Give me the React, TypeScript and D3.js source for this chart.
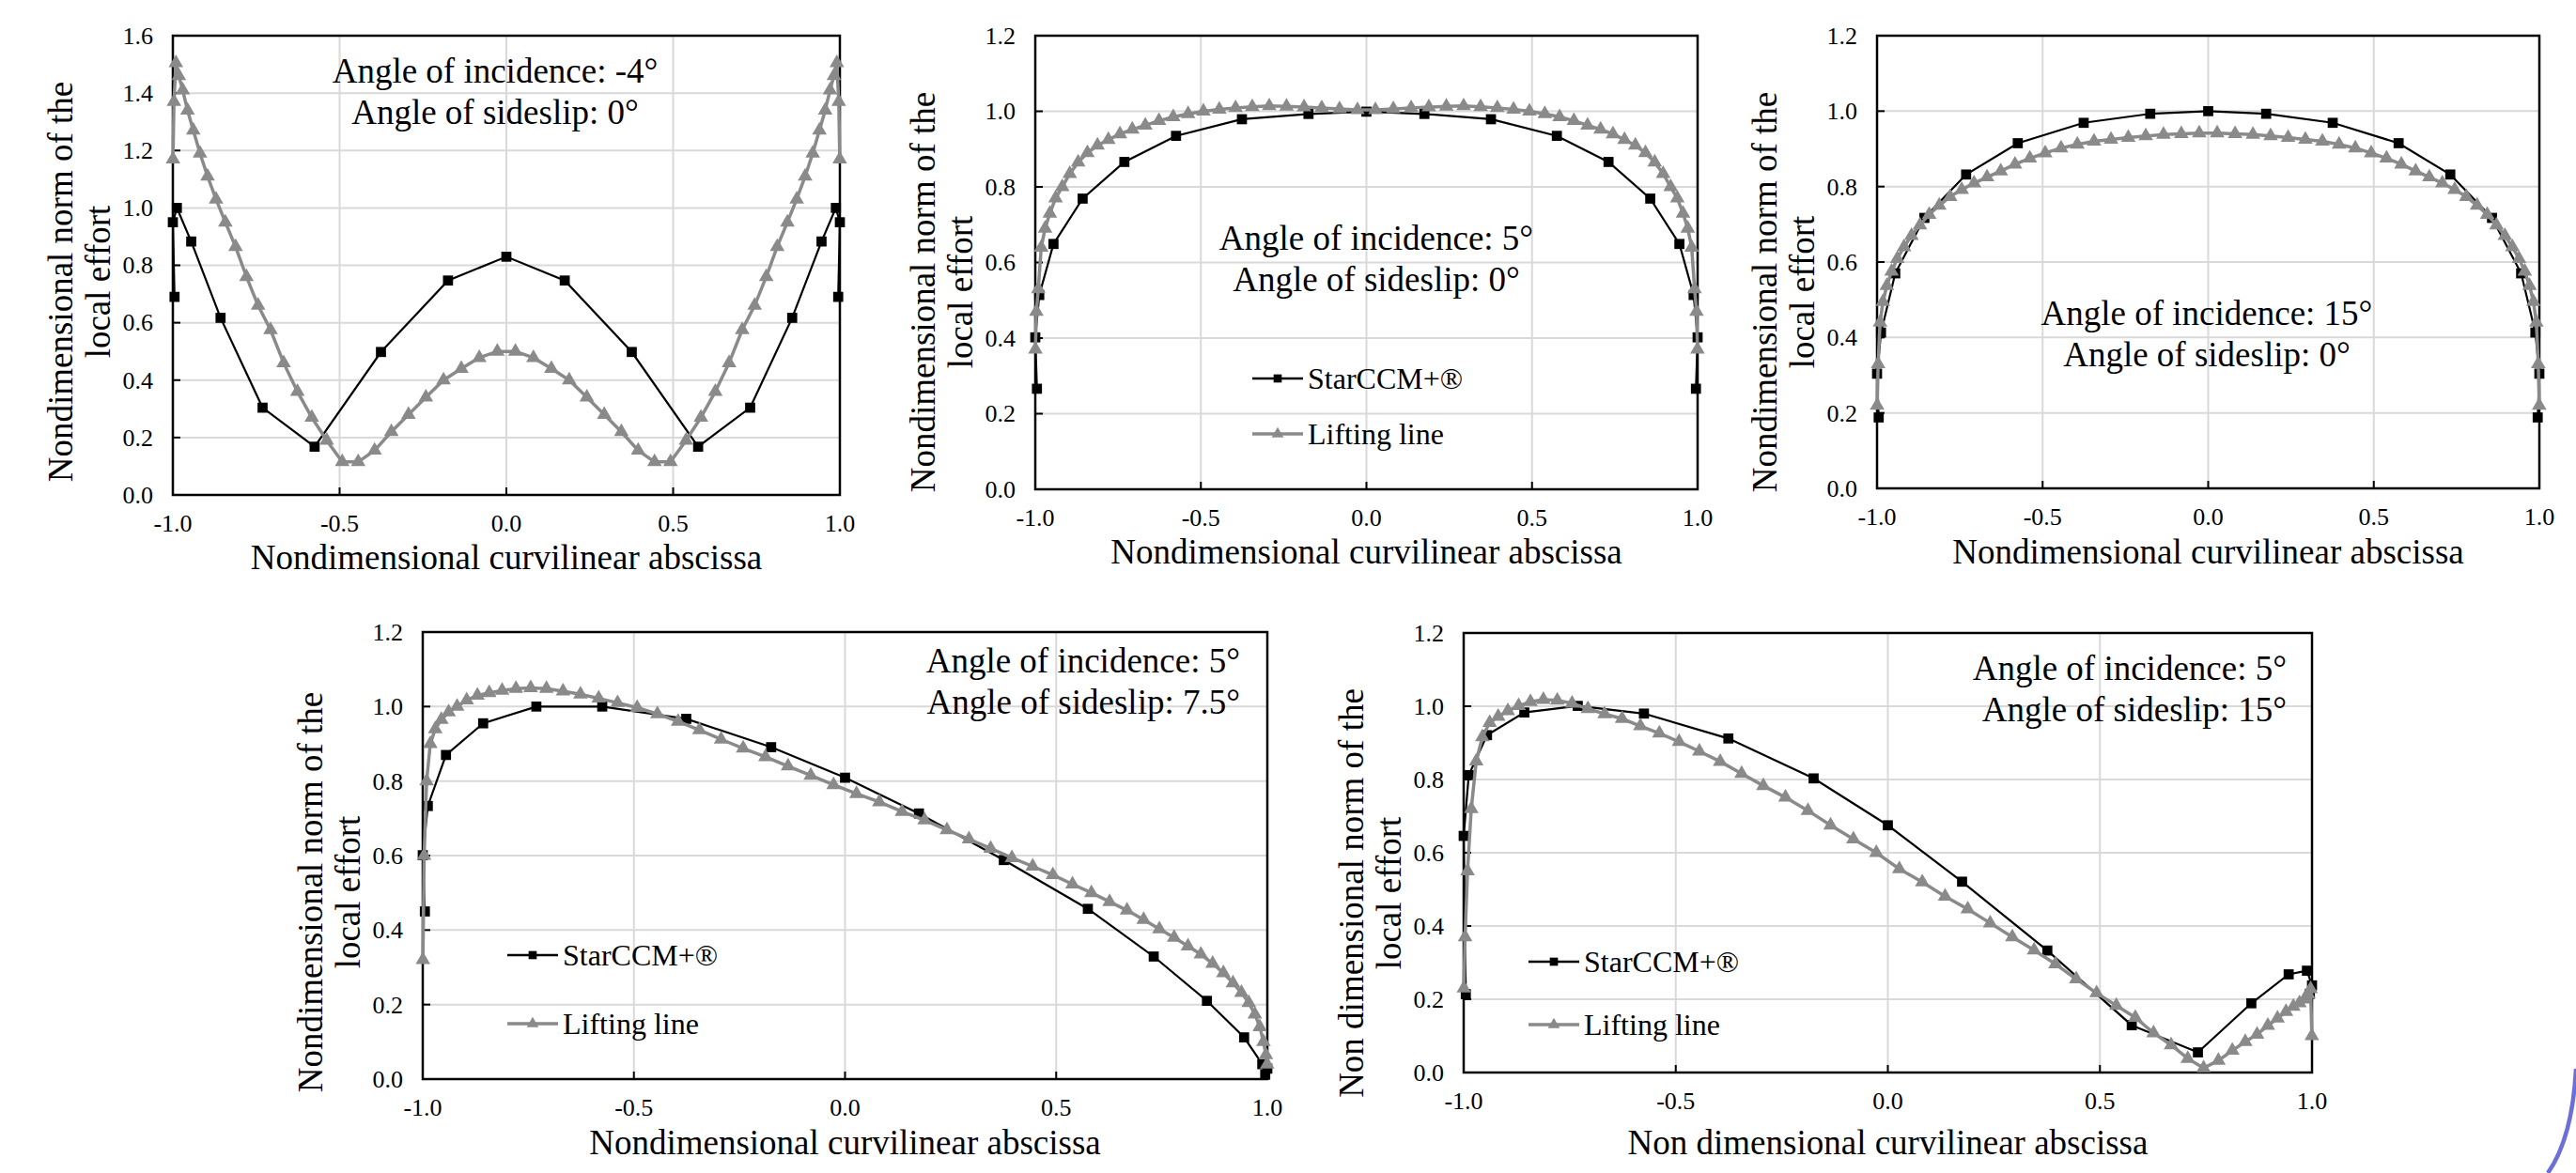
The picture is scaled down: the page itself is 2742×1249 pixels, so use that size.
import React from "react";
import * as d3 from "d3";

// abscissa of the StarCCM+ sections (the tips hold three close points)
const STAR_X = [
  -0.995, -1.0, -0.988, -0.945, -0.857, -0.731, -0.575, -0.376, -0.175, 0.0,
  0.175, 0.376, 0.575, 0.731, 0.857, 0.945, 0.988, 1.0, 0.995,
];

// abscissa of the lifting line stations
const LL_X = [
  -0.9996, -0.9967, -0.9909, -0.9821, -0.9704, -0.956, -0.9387, -0.9186, -0.8959, -0.8705,
  -0.8426, -0.8121, -0.7793, -0.7444, -0.7071, -0.6678, -0.6265, -0.5834, -0.5386, -0.4922,
  -0.4443, -0.3952, -0.3448, -0.2935, -0.2413, -0.1884, -0.135, -0.0812, -0.0271,
  0.0271, 0.0812, 0.135, 0.1884, 0.2413, 0.2935, 0.3448, 0.3952, 0.4443, 0.4922,
  0.5386, 0.5834, 0.6265, 0.6678, 0.7071, 0.7444, 0.7793, 0.8121, 0.8426, 0.8705,
  0.8959, 0.9186, 0.9387, 0.956, 0.9704, 0.9821, 0.9909, 0.9967, 0.9996,
];

// incidence -4, sideslip 0
const STAR_1 = [0.69, 0.95, 1.0, 0.883, 0.617, 0.304, 0.168, 0.498, 0.747, 0.83, 0.747, 0.498, 0.168, 0.304, 0.617, 0.883, 1.0, 0.95, 0.69];
const LL_1 = [
  1.17, 1.37, 1.505, 1.46, 1.41, 1.34, 1.27, 1.19, 1.11, 1.03, 0.95, 0.865, 0.76, 0.66, 0.575,
  0.46, 0.36, 0.27, 0.19, 0.115, 0.115, 0.155, 0.22, 0.28, 0.34, 0.4, 0.44, 0.478, 0.5,
  0.5, 0.478, 0.44, 0.4, 0.34, 0.28, 0.22, 0.155, 0.115, 0.115, 0.19, 0.27, 0.36, 0.46,
  0.575, 0.66, 0.76, 0.865, 0.95, 1.03, 1.11, 1.19, 1.27, 1.34, 1.41, 1.46, 1.505, 1.37, 1.17,
];

// incidence 5, sideslip 0
const STAR_2 = [0.266, 0.402, 0.514, 0.649, 0.769, 0.866, 0.935, 0.979, 0.993, 0.999, 0.993, 0.979, 0.935, 0.866, 0.769, 0.649, 0.514, 0.402, 0.266];
const LL_2 = [
  0.37, 0.47, 0.53, 0.64, 0.69, 0.73, 0.77, 0.8, 0.835, 0.865, 0.89, 0.91, 0.925, 0.94, 0.952,
  0.963, 0.975, 0.985, 0.993, 1.0, 1.005, 1.009, 1.012, 1.014, 1.013, 1.011, 1.009, 1.006, 1.004,
  1.004, 1.006, 1.009, 1.011, 1.013, 1.014, 1.012, 1.009, 1.005, 1.0, 0.993, 0.985, 0.975, 0.963,
  0.952, 0.94, 0.925, 0.91, 0.89, 0.865, 0.835, 0.8, 0.77, 0.73, 0.69, 0.64, 0.53, 0.47, 0.37,
];

// incidence 15, sideslip 0
const STAR_3 = [0.188, 0.304, 0.413, 0.57, 0.717, 0.832, 0.915, 0.969, 0.993, 1.0, 0.993, 0.969, 0.915, 0.832, 0.717, 0.57, 0.413, 0.304, 0.188];
const LL_3 = [
  0.22, 0.33, 0.44, 0.495, 0.537, 0.575, 0.609, 0.64, 0.67, 0.698, 0.726, 0.75, 0.773, 0.792, 0.809,
  0.825, 0.841, 0.859, 0.875, 0.889, 0.902, 0.912, 0.92, 0.925, 0.93, 0.934, 0.938, 0.94, 0.942,
  0.942, 0.94, 0.938, 0.934, 0.93, 0.925, 0.92, 0.912, 0.902, 0.889, 0.875, 0.859, 0.841, 0.825,
  0.809, 0.792, 0.773, 0.75, 0.726, 0.698, 0.67, 0.64, 0.609, 0.575, 0.537, 0.495, 0.44, 0.33, 0.22,
];

// incidence 5, sideslip 7.5
const STAR_4 = [0.45, 0.601, 0.733, 0.87, 0.955, 1.0, 1.0, 0.967, 0.891, 0.809, 0.713, 0.588, 0.457, 0.329, 0.21, 0.112, 0.04, 0.028, 0.012];
const LL_4 = [
  0.32, 0.6, 0.8, 0.9, 0.94, 0.965, 0.985, 1.0, 1.017, 1.03, 1.037, 1.043, 1.048, 1.05, 1.048,
  1.041, 1.033, 1.022, 1.01, 0.997, 0.98, 0.96, 0.937, 0.912, 0.888, 0.865, 0.84, 0.815, 0.79,
  0.766, 0.744, 0.718, 0.695, 0.669, 0.644, 0.619, 0.594, 0.571, 0.548, 0.523, 0.5, 0.476, 0.453,
  0.428, 0.403, 0.38, 0.357, 0.335, 0.31, 0.285, 0.258, 0.232, 0.205, 0.174, 0.14, 0.1, 0.065, 0.04,
];

// incidence 5, sideslip 15
const STAR_5 = [0.214, 0.646, 0.812, 0.921, 0.983, 1.001, 0.98, 0.912, 0.803, 0.675, 0.521, 0.333, 0.129, 0.055, 0.189, 0.268, 0.278, 0.238, 0.215];
const LL_5 = [
  0.23, 0.37, 0.55, 0.72, 0.85, 0.916, 0.955, 0.972, 0.987, 1.001, 1.012, 1.018, 1.016, 1.008, 0.993,
  0.979, 0.966, 0.946, 0.926, 0.903, 0.877, 0.849, 0.816, 0.783, 0.751, 0.715, 0.675, 0.637, 0.6,
  0.556, 0.52, 0.481, 0.446, 0.408, 0.37, 0.334, 0.296, 0.255, 0.217, 0.183, 0.15, 0.108, 0.075,
  0.038, 0.012, 0.033, 0.06, 0.084, 0.104, 0.128, 0.148, 0.166, 0.18, 0.19, 0.2, 0.214, 0.228, 0.1,
];

const X_TICKS = [-1, -0.5, 0, 0.5, 1];
const Y_TICKS_16 = [0, 0.2, 0.4, 0.6, 0.8, 1.0, 1.2, 1.4, 1.6];
const Y_TICKS_12 = [0, 0.2, 0.4, 0.6, 0.8, 1.0, 1.2];

const SERIES_NAMES = ["StarCCM+®", "Lifting line"];

const FONT = "'Liberation Serif', 'Times New Roman', serif";
const GREY = "#8a8a8a";

const panels = [
  {
    star: STAR_1, ll: LL_1, yMax: 1.6, yTicks: Y_TICKS_16,
    left: 184, right: 894, top: 38, bottom: 527,
    note: ["Angle of incidence: -4°", "Angle of sideslip: 0°"],
    noteX: 527, noteY: 88, noteAnchor: "middle",
    xTitle: "Nondimensional curvilinear abscissa", xTitleY: 606,
    yTitle: ["Nondimensional norm of the", "local effort"], yTitleC: 300,
    legend: null,
  },
  {
    star: STAR_2, ll: LL_2, yMax: 1.2, yTicks: Y_TICKS_12,
    left: 1102, right: 1807, top: 38, bottom: 521,
    note: ["Angle of incidence: 5°", "Angle of sideslip: 0°"],
    noteX: 1465, noteY: 266, noteAnchor: "middle",
    xTitle: "Nondimensional curvilinear abscissa", xTitleY: 600,
    yTitle: ["Nondimensional norm of the", "local effort"], yTitleC: 311,
    legend: { x: 1333, y: 403, gap: 59 },
  },
  {
    star: STAR_3, ll: LL_3, yMax: 1.2, yTicks: Y_TICKS_12,
    left: 1998, right: 2703, top: 38, bottom: 520,
    note: ["Angle of incidence: 15°", "Angle of sideslip: 0°"],
    noteX: 2349, noteY: 346, noteAnchor: "middle",
    xTitle: "Nondimensional curvilinear abscissa", xTitleY: 600,
    yTitle: ["Nondimensional norm of the", "local effort"], yTitleC: 311,
    legend: null,
  },
  {
    star: STAR_4, ll: LL_4, yMax: 1.2, yTicks: Y_TICKS_12,
    left: 450, right: 1349, top: 673, bottom: 1149,
    note: ["Angle of incidence: 5°", "Angle of sideslip: 7.5°"],
    noteX: 1320, noteY: 716, noteAnchor: "end",
    xTitle: "Nondimensional curvilinear abscissa", xTitleY: 1229,
    yTitle: ["Nondimensional norm of the", "local effort"], yTitleC: 950,
    legend: { x: 540, y: 1017, gap: 73 },
  },
  {
    star: STAR_5, ll: LL_5, yMax: 1.2, yTicks: Y_TICKS_12,
    left: 1558, right: 2461, top: 674, bottom: 1142,
    note: ["Angle of incidence: 5°", "Angle of sideslip: 15°"],
    noteX: 2434, noteY: 724, noteAnchor: "end",
    xTitle: "Non dimensional curvilinear abscissa", xTitleY: 1229,
    yTitle: ["Non dimensional norm of the", "local effort"], yTitleC: 951,
    legend: { x: 1627, y: 1024, gap: 67 },
  },
];

const squarePath = d3.symbol().type(d3.symbolSquare).size(115)();
const trianglePath = d3.symbol().type(d3.symbolTriangle).size(105)();
const smallSquare = d3.symbol().type(d3.symbolSquare).size(75)();
const smallTriangle = d3.symbol().type(d3.symbolTriangle).size(70)();

function Panel({ p }: { p: any }) {
  const x = d3.scaleLinear().domain([-1, 1]).range([p.left, p.right]);
  const y = d3.scaleLinear().domain([0, p.yMax]).range([p.bottom, p.top]);
  const line = d3
    .line<[number, number]>()
    .x((d) => x(d[0]))
    .y((d) => y(d[1]));

  const star: [number, number][] = STAR_X.map((v, i) => [v, p.star[i]]);
  const ll: [number, number][] = LL_X.map((v, i) => [v, p.ll[i]]);

  return (
    <g>
      {/* grid */}
      {p.yTicks.map((t: number) => (
        <line key={"gy" + t} x1={p.left} x2={p.right} y1={y(t)} y2={y(t)} stroke="#d9d9d9" strokeWidth={2} />
      ))}
      {X_TICKS.map((t) => (
        <line key={"gx" + t} x1={x(t)} x2={x(t)} y1={p.top} y2={p.bottom} stroke="#d9d9d9" strokeWidth={2} />
      ))}

      {/* frame and inner ticks */}
      <rect x={p.left} y={p.top} width={p.right - p.left} height={p.bottom - p.top} fill="none" stroke="#000" strokeWidth={2.5} />
      {X_TICKS.map((t) => (
        <line key={"tx" + t} x1={x(t)} x2={x(t)} y1={p.bottom} y2={p.bottom - 8} stroke="#000" strokeWidth={2} />
      ))}
      {p.yTicks.map((t: number) => (
        <line key={"ty" + t} x1={p.left} x2={p.left + 8} y1={y(t)} y2={y(t)} stroke="#000" strokeWidth={2} />
      ))}

      {/* tick labels */}
      {X_TICKS.map((t) => (
        <text key={"lx" + t} x={x(t)} y={p.bottom + 39} textAnchor="middle" fontSize={26} fontFamily={FONT}>
          {t.toFixed(1)}
        </text>
      ))}
      {p.yTicks.map((t: number) => (
        <text key={"ly" + t} x={p.left - 21} y={y(t)} dy="0.34em" textAnchor="end" fontSize={26} fontFamily={FONT}>
          {t.toFixed(1)}
        </text>
      ))}

      {/* axis titles */}
      <text x={(p.left + p.right) / 2} y={p.xTitleY} textAnchor="middle" fontSize={37} fontFamily={FONT}>
        {p.xTitle}
      </text>
      {p.yTitle.map((s: string, i: number) => (
        <text
          key={"yt" + i}
          transform={`translate(${p.left - (i === 0 ? 107 : 67)},${p.yTitleC}) rotate(-90)`}
          textAnchor="middle"
          fontSize={37}
          fontFamily={FONT}
        >
          {s}
        </text>
      ))}

      {/* StarCCM+ */}
      <path d={line(star) || ""} fill="none" stroke="#000" strokeWidth={2.2} />
      {star.map((d, i) => (
        <path key={"s" + i} d={squarePath || ""} transform={`translate(${x(d[0])},${y(d[1])})`} fill="#000" />
      ))}

      {/* lifting line */}
      <path d={line(ll) || ""} fill="none" stroke={GREY} strokeWidth={3.5} />
      {ll.map((d, i) => (
        <path key={"l" + i} d={trianglePath || ""} transform={`translate(${x(d[0])},${y(d[1])})`} fill={GREY} />
      ))}

      {/* annotation */}
      {p.note.map((s: string, i: number) => (
        <text key={"n" + i} x={p.noteX} y={p.noteY + i * 44} textAnchor={p.noteAnchor} fontSize={37} fontFamily={FONT}>
          {s}
        </text>
      ))}

      {/* legend */}
      {p.legend && (
        <g>
          <line x1={p.legend.x} x2={p.legend.x + 54} y1={p.legend.y} y2={p.legend.y} stroke="#000" strokeWidth={2.5} />
          <path d={smallSquare || ""} transform={`translate(${p.legend.x + 27},${p.legend.y})`} fill="#000" />
          <text x={p.legend.x + 59} y={p.legend.y} dy="0.35em" fontSize={32} fontFamily={FONT}>
            {SERIES_NAMES[0]}
          </text>
          <line
            x1={p.legend.x}
            x2={p.legend.x + 54}
            y1={p.legend.y + p.legend.gap}
            y2={p.legend.y + p.legend.gap}
            stroke={GREY}
            strokeWidth={3.5}
          />
          <path d={smallTriangle || ""} transform={`translate(${p.legend.x + 27},${p.legend.y + p.legend.gap})`} fill={GREY} />
          <text x={p.legend.x + 59} y={p.legend.y + p.legend.gap} dy="0.35em" fontSize={32} fontFamily={FONT}>
            {SERIES_NAMES[1]}
          </text>
        </g>
      )}
    </g>
  );
}

export default function App() {
  return (
    <svg
      width={2742}
      height={1249}
      viewBox="0 0 2742 1249"
      style={{ position: "absolute", left: 0, top: 0, background: "#fff" }}
    >
      <rect x={0} y={0} width={2742} height={1249} fill="#fff" />
      {panels.map((p, i) => (
        <Panel key={i} p={p} />
      ))}
      {/* edge of a blue circle cut by the page */}
      <path d="M2742,1138 Q2738,1212 2712,1249" fill="none" stroke="#6c6fd8" strokeWidth={4.5} />
    </svg>
  );
}
